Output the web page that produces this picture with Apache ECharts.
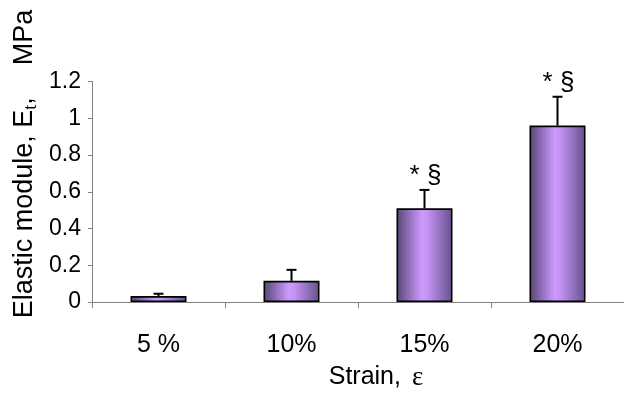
<!DOCTYPE html>
<html>
<head>
<meta charset="utf-8">
<script src="https://cdn.jsdelivr.net/npm/echarts@6/dist/echarts.min.js"></script>
<style>
  html, body { margin: 0; padding: 0; background: #fff; }
  #chart { width: 624px; height: 396px; }
</style>
</head>
<body>
<div id="chart"></div>
<script>
// Elastic modulus vs. strain level
var strainLabels = ['5 %', '10%', '15%', '20%'];
var modulusMean = [0.032, 0.115, 0.51, 0.96];
var modulusSD = [0.013, 0.06, 0.10, 0.157];
var significance = ['', '', '* §', '* §'];
var yTicks = { min: 0, max: 1.2, interval: 0.2 };

var FONT = '"Liberation Sans", Arial, sans-serif';
var SERIF = '"Liberation Serif", "Times New Roman", serif';
var AXIS_GREY = '#808080';

var chart = echarts.init(document.getElementById('chart'), null, { renderer: 'canvas' });

var barFill = new echarts.graphic.LinearGradient(0, 0, 1, 0, [
  { offset: 0, color: '#574573' },
  { offset: 0.45, color: '#cc99ff' },
  { offset: 0.55, color: '#c493f3' },
  { offset: 1, color: '#65508a' }
]);

// error bars (upper whisker only) with significance marks above
function renderErr(params, api) {
  var i = api.value(0);
  var mean = api.value(1);
  var sd = api.value(2);
  var base = api.coord([i, mean]);
  var top = api.coord([i, mean + sd]);
  var cap = 5;
  var children = [
    { type: 'line', shape: { x1: base[0], y1: base[1], x2: top[0], y2: top[1] },
      style: { stroke: '#000', lineWidth: 2 } },
    { type: 'line', shape: { x1: top[0] - cap, y1: top[1], x2: top[0] + cap, y2: top[1] },
      style: { stroke: '#000', lineWidth: 2 } }
  ];
  var mark = significance[i];
  if (mark) {
    children.push({
      type: 'text',
      x: top[0] + 1,
      y: top[1] - 1,
      style: {
        text: mark,
        font: '26px ' + FONT,
        fill: '#000',
        align: 'center',
        verticalAlign: 'bottom'
      }
    });
  }
  return { type: 'group', children: children };
}

var errData = modulusMean.map(function (m, i) { return [i, m, modulusSD[i]]; });

chart.setOption({
  animation: false,
  backgroundColor: '#fff',
  grid: { left: 92, top: 81.5, width: 540, height: 229.5, containLabel: false },
  xAxis: {
    type: 'category',
    data: strainLabels,
    boundaryGap: true,
    axisLine: { lineStyle: { color: AXIS_GREY, width: 1 } },
    axisTick: { show: true, length: 6, lineStyle: { color: AXIS_GREY } },
    axisLabel: { color: '#000', fontSize: 25, fontFamily: FONT, margin: 31 },
    name: '{a|Strain,}{e|ε}',
    nameLocation: 'middle',
    nameGap: 62,
    nameTextStyle: {
      padding: [0, 0, 0, 36],
      rich: {
        a: { fontSize: 25, fontFamily: FONT, color: '#000' },
        e: { fontSize: 27, fontFamily: SERIF, color: '#000', padding: [0, 0, 0, 11] }
      }
    }
  },
  yAxis: {
    type: 'value',
    min: yTicks.min,
    max: yTicks.max,
    interval: yTicks.interval,
    splitLine: { show: false },
    axisLine: { show: true, lineStyle: { color: AXIS_GREY, width: 1 } },
    axisTick: { show: true, length: 4, lineStyle: { color: AXIS_GREY } },
    axisLabel: { color: '#000', fontSize: 23, fontFamily: FONT, margin: 11, padding: [10, 0, 0, 0] }
  },
  graphic: [{
    type: 'text',
    x: 25,
    y: 164,
    rotation: Math.PI / 2,
    style: {
      text: '{a|Elastic module, E}{s|t}{w3|,}{a|MPa}',
      align: 'center',
      verticalAlign: 'middle',
      rich: {
        a: { fontSize: 27, fontFamily: FONT, fill: '#000' },
        w3: { fontSize: 27, fontFamily: FONT, fill: '#000', padding: [0, 32, 0, 0] },
        s: { fontSize: 18, fontFamily: SERIF, fill: '#000', padding: [12, 0, 0, 0] }
      }
    }
  }],
  series: [
    {
      type: 'bar',
      data: modulusMean,
      barWidth: 56,
      itemStyle: { color: barFill, borderColor: '#000', borderWidth: 1.6 },
      z: 2
    },
    {
      type: 'custom',
      data: errData,
      renderItem: renderErr,
      encode: { x: 0, y: 1 },
      z: 3
    }
  ]
});
</script>
</body>
</html>
